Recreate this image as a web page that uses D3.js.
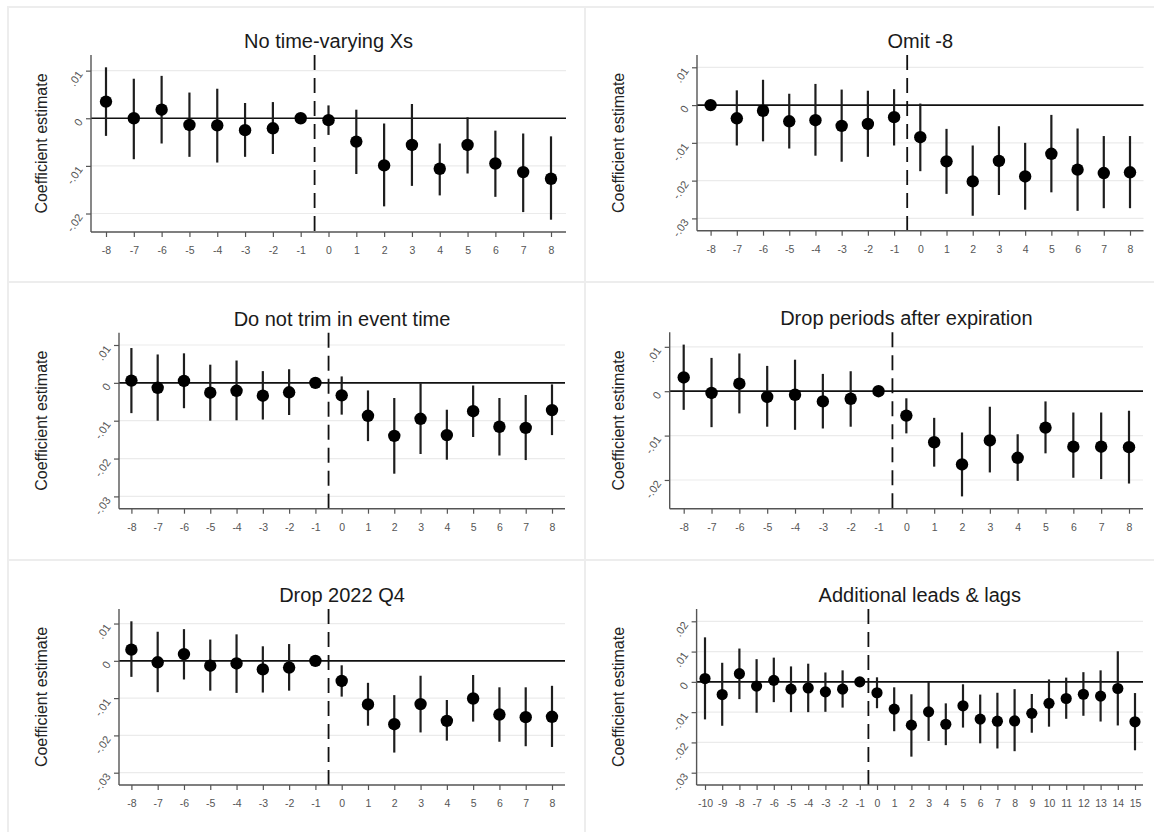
<!DOCTYPE html>
<html>
<head>
<meta charset="utf-8">
<script src="https://cdn.jsdelivr.net/npm/d3@7"></script>
<style>
  body { margin: 0; background: #fff; }
  svg { display: block; font-family: "Liberation Sans", Arial, Helvetica, sans-serif; }
</style>
</head>
<body>
<svg id="chart" width="1154" height="832"></svg>
<script>
// ---- Event-study estimates (coefficient, 95% CI low/high); null = omitted period ----
const eventTime = [-8, -7, -6, -5, -4, -3, -2, -1, 0, 1, 2, 3, 4, 5, 6, 7, 8];
const eventTimeLong = [-10, -9, -8, -7, -6, -5, -4, -3, -2, -1, 0, 1, 2, 3, 4, 5, 6, 7, 8, 9, 10, 11, 12, 13, 14, 15];

const panelTitles = [
  "No time-varying Xs",
  "Omit -8",
  "Do not trim in event time",
  "Drop periods after expiration",
  "Drop 2022 Q4",
  "Additional leads & lags"
];

const yTicksNoXs   = [0.01, 0, -0.01, -0.02];
const yTicksOmit   = [0.01, 0, -0.01, -0.02, -0.03];
const yTicksNoTrim = [0.01, 0, -0.01, -0.02, -0.03];
const yTicksDropEx = [0.01, 0, -0.01, -0.02];
const yTicksDropQ4 = [0.01, 0, -0.01, -0.02, -0.03];
const yTicksLeads  = [0.02, 0.01, 0, -0.01, -0.02, -0.03];

const estNoXs = [0.0035, 0, 0.0018, -0.0014, -0.0015, -0.0025, -0.0021, 0, -0.0004, -0.0049, -0.0099, -0.0056, -0.0106, -0.0056, -0.0095, -0.0113, -0.0127];
const loNoXs  = [-0.0037, -0.0086, -0.0053, -0.0081, -0.0093, -0.0081, -0.0075, null, -0.0035, -0.0117, -0.0185, -0.0142, -0.0162, -0.0116, -0.0165, -0.0197, -0.0213];
const hiNoXs  = [0.0107, 0.0083, 0.0089, 0.0054, 0.0062, 0.0032, 0.0034, null, 0.0027, 0.0018, -0.0011, 0.0030, -0.0053, 0.0002, -0.0026, -0.0032, -0.0038];

const estOmit = [0, -0.0035, -0.0015, -0.0043, -0.0040, -0.0055, -0.0050, -0.0032, -0.0085, -0.0149, -0.0202, -0.0148, -0.0189, -0.0129, -0.0171, -0.0180, -0.0178];
const loOmit  = [null, -0.0107, -0.0096, -0.0115, -0.0134, -0.0150, -0.0137, -0.0107, -0.0175, -0.0235, -0.0293, -0.0238, -0.0277, -0.0231, -0.0280, -0.0273, -0.0273];
const hiOmit  = [null, 0.0039, 0.0067, 0.0030, 0.0056, 0.0041, 0.0038, 0.0042, 0.0004, -0.0063, -0.0107, -0.0056, -0.0100, -0.0026, -0.0062, -0.0082, -0.0082];

const estNoTrim = [0.0006, -0.0013, 0.0005, -0.0026, -0.0021, -0.0034, -0.0025, 0, -0.0033, -0.0087, -0.0140, -0.0095, -0.0138, -0.0075, -0.0116, -0.0119, -0.0072];
const loNoTrim  = [-0.0080, -0.0100, -0.0067, -0.0100, -0.0099, -0.0097, -0.0085, null, -0.0084, -0.0154, -0.0240, -0.0188, -0.0203, -0.0143, -0.0192, -0.0204, -0.0138];
const hiNoTrim  = [0.0092, 0.0075, 0.0078, 0.0048, 0.0059, 0.0031, 0.0036, null, 0.0017, -0.0020, -0.0040, -0.0001, -0.0071, -0.0007, -0.0040, -0.0032, -0.0004];

const estDropEx = [0.0031, -0.0004, 0.0017, -0.0013, -0.0008, -0.0023, -0.0017, 0, -0.0055, -0.0115, -0.0165, -0.0111, -0.0150, -0.0082, -0.0125, -0.0125, -0.0126];
const loDropEx  = [-0.0042, -0.0081, -0.0050, -0.0080, -0.0087, -0.0084, -0.0080, null, -0.0095, -0.0170, -0.0237, -0.0183, -0.0202, -0.0140, -0.0195, -0.0198, -0.0208];
const hiDropEx  = [0.0105, 0.0075, 0.0085, 0.0057, 0.0071, 0.0039, 0.0045, null, -0.0016, -0.0060, -0.0093, -0.0035, -0.0097, -0.0023, -0.0048, -0.0048, -0.0044];

const estDropQ4 = [0.0030, -0.0004, 0.0018, -0.0013, -0.0007, -0.0023, -0.0018, 0, -0.0054, -0.0117, -0.0170, -0.0116, -0.0161, -0.0101, -0.0144, -0.0151, -0.0150];
const loDropQ4  = [-0.0043, -0.0084, -0.0050, -0.0080, -0.0086, -0.0085, -0.0080, null, -0.0096, -0.0174, -0.0246, -0.0192, -0.0214, -0.0163, -0.0217, -0.0229, -0.0231];
const hiDropQ4  = [0.0106, 0.0078, 0.0085, 0.0057, 0.0071, 0.0039, 0.0045, null, -0.0012, -0.0059, -0.0092, -0.0040, -0.0105, -0.0038, -0.0071, -0.0071, -0.0067];

const estLeads = [0.0011, -0.0042, 0.0027, -0.0014, 0.0005, -0.0024, -0.0020, -0.0033, -0.0024, 0, -0.0036, -0.0090, -0.0143, -0.0099, -0.0140, -0.0079, -0.0123, -0.0130, -0.0129, -0.0104, -0.0071, -0.0055, -0.0041, -0.0047, -0.0022, -0.0132];
const loLeads  = [-0.0124, -0.0145, -0.0057, -0.0102, -0.0067, -0.0100, -0.0100, -0.0099, -0.0085, null, -0.0087, -0.0163, -0.0247, -0.0195, -0.0209, -0.0151, -0.0203, -0.0220, -0.0229, -0.0168, -0.0148, -0.0122, -0.0112, -0.0131, -0.0144, -0.0226];
const hiLeads  = [0.0147, 0.0063, 0.0110, 0.0075, 0.0080, 0.0051, 0.0060, 0.0031, 0.0038, null, 0.0015, -0.0018, -0.0041, 0.0000, -0.0071, -0.0008, -0.0042, -0.0036, -0.0024, -0.0040, 0.0008, 0.0014, 0.0032, 0.0038, 0.0101, -0.0037];

const treatmentCut = -0.5;   // vertical reference between -1 and 0
const yTitle = "Coefficient estimate";

// ---- Panel series ----
const series = [
  { x: eventTime,     est: estNoXs,   lo: loNoXs,   hi: hiNoXs,   ticks: yTicksNoXs },
  { x: eventTime,     est: estOmit,   lo: loOmit,   hi: hiOmit,   ticks: yTicksOmit },
  { x: eventTime,     est: estNoTrim, lo: loNoTrim, hi: hiNoTrim, ticks: yTicksNoTrim },
  { x: eventTime,     est: estDropEx, lo: loDropEx, hi: hiDropEx, ticks: yTicksDropEx },
  { x: eventTime,     est: estDropQ4, lo: loDropQ4, hi: hiDropQ4, ticks: yTicksDropQ4 },
  { x: eventTimeLong, est: estLeads,  lo: loLeads,  hi: hiLeads,  ticks: yTicksLeads }
];

// ---- Layout of each sub-graph (plot region in page pixels) ----
const frames = [
  { left: 91,    right: 566,    top: 55,    bottom: 232,   xFirst: 106,   xLast: 551,  r: 6.2 },
  { left: 697,   right: 1143.5, top: 55,    bottom: 230.7, xFirst: 710.6, xLast: 1130, r: 6.2 },
  { left: 119,   right: 565,    top: 332.7, bottom: 508.7, xFirst: 131.4, xLast: 552,  r: 6.2 },
  { left: 669.7, right: 1143,   top: 332.3, bottom: 508.7, xFirst: 683.7, xLast: 1129, r: 6.2 },
  { left: 119,   right: 565,    top: 609,   bottom: 785,   xFirst: 131.4, xLast: 552,  r: 6.2 },
  { left: 696.6, right: 1143,   top: 609,   bottom: 785,   xFirst: 705,   xLast: 1135, r: 5.6 }
];
const cellLeft = [8, 585];
const cellTop = [7, 282, 560];
const cellWidth = 577;
const yPad = 12.3;          // plot-region margin inside the axes

const svg = d3.select("#chart");

// Light outlines of the combined sub-graphs
cellTop.forEach((t, r) => {
  cellLeft.forEach(l => {
    const h = r < cellTop.length - 1 ? cellTop[r + 1] - t : 300;
    svg.append("rect")
      .attr("x", l).attr("y", t).attr("width", cellWidth).attr("height", h)
      .attr("fill", "none").attr("stroke", "#ededed").attr("stroke-width", 2);
  });
});

const fmtY = v => v === 0 ? "0" : (v < 0 ? "-" : "") + String(+Math.abs(v).toFixed(4)).replace(/^0/, "");

series.forEach((p, i) => {
  const f = frames[i];
  const g = svg.append("g");

  const vals = [...p.ticks, ...p.est, ...p.lo.filter(v => v != null), ...p.hi.filter(v => v != null)];
  const y = d3.scaleLinear().domain(d3.extent(vals)).range([f.bottom - yPad, f.top + yPad]);
  const x = d3.scaleLinear().domain([p.x[0], p.x[p.x.length - 1]]).range([f.xFirst, f.xLast]);

  // gridlines
  g.selectAll("line.grid").data(p.ticks.filter(t => t !== 0)).join("line")
    .attr("class", "grid")
    .attr("x1", f.left).attr("x2", f.right)
    .attr("y1", d => y(d)).attr("y2", d => y(d))
    .attr("stroke", "#ebebeb").attr("stroke-width", 1.2);

  // zero line
  g.append("line")
    .attr("x1", f.left).attr("x2", f.right)
    .attr("y1", y(0)).attr("y2", y(0))
    .attr("stroke", "#111").attr("stroke-width", 1.7);

  // treatment line
  g.append("line")
    .attr("x1", x(treatmentCut)).attr("x2", x(treatmentCut))
    .attr("y1", f.top).attr("y2", f.bottom)
    .attr("stroke", "#111").attr("stroke-width", 1.8)
    .attr("stroke-dasharray", "15,8");

  // axes
  const xAxis = d3.axisBottom(x).tickValues(p.x).tickSize(5).tickPadding(10)
    .tickFormat(d => String(d));
  const gx = g.append("g").attr("transform", `translate(0,${f.bottom})`).call(xAxis);
  gx.select(".domain").remove();
  gx.selectAll(".tick line").attr("stroke", "#555").attr("stroke-width", 1.2);
  gx.selectAll(".tick text").attr("fill", "#555").attr("font-size", 10.5)
    .attr("font-family", "'Liberation Sans', Arial, sans-serif");

  const yAxis = d3.axisLeft(y).tickValues(p.ticks).tickSize(5).tickFormat(fmtY);
  const gy = g.append("g").attr("transform", `translate(${f.left},0)`).call(yAxis);
  gy.select(".domain").remove();
  gy.selectAll(".tick line").attr("stroke", "#555").attr("stroke-width", 1.2);
  gy.selectAll(".tick text")
    .attr("x", 0).attr("dy", "0.35em")
    .attr("transform", "translate(-11,1) rotate(-55)")
    .attr("text-anchor", "end")
    .attr("fill", "#555").attr("font-size", 11)
    .attr("font-family", "'Liberation Sans', Arial, sans-serif");

  // axis lines
  g.append("line").attr("x1", f.left).attr("x2", f.left).attr("y1", f.top).attr("y2", f.bottom)
    .attr("stroke", "#555").attr("stroke-width", 1.4);
  g.append("line").attr("x1", f.left).attr("x2", f.right).attr("y1", f.bottom).attr("y2", f.bottom)
    .attr("stroke", "#555").attr("stroke-width", 1.4);

  const pts = p.x.map((t, k) => ({ t, est: p.est[k], lo: p.lo[k], hi: p.hi[k] }));

  // confidence intervals
  g.selectAll("line.ci").data(pts.filter(d => d.lo != null)).join("line")
    .attr("class", "ci")
    .attr("x1", d => x(d.t)).attr("x2", d => x(d.t))
    .attr("y1", d => y(d.lo)).attr("y2", d => y(d.hi))
    .attr("stroke", "#1e1e1e").attr("stroke-width", 2.2);

  // point estimates
  g.selectAll("circle.pt").data(pts).join("circle")
    .attr("class", "pt")
    .attr("cx", d => x(d.t)).attr("cy", d => y(d.est)).attr("r", f.r)
    .attr("fill", "#000");

  // titles
  g.append("text")
    .attr("x", (f.left + f.right) / 2).attr("y", f.top - 7)
    .attr("text-anchor", "middle").attr("font-size", 20).attr("fill", "#1a1a1a")
    .text(panelTitles[i]);

  const yc = (f.top + f.bottom) / 2;
  const xt = cellLeft[i % 2] + 33.5;
  g.append("text")
    .attr("transform", `translate(${xt},${yc}) rotate(-90)`)
    .attr("text-anchor", "middle").attr("dominant-baseline", "central")
    .attr("font-size", 16).attr("fill", "#222")
    .text(yTitle);
});
</script>
</body>
</html>
